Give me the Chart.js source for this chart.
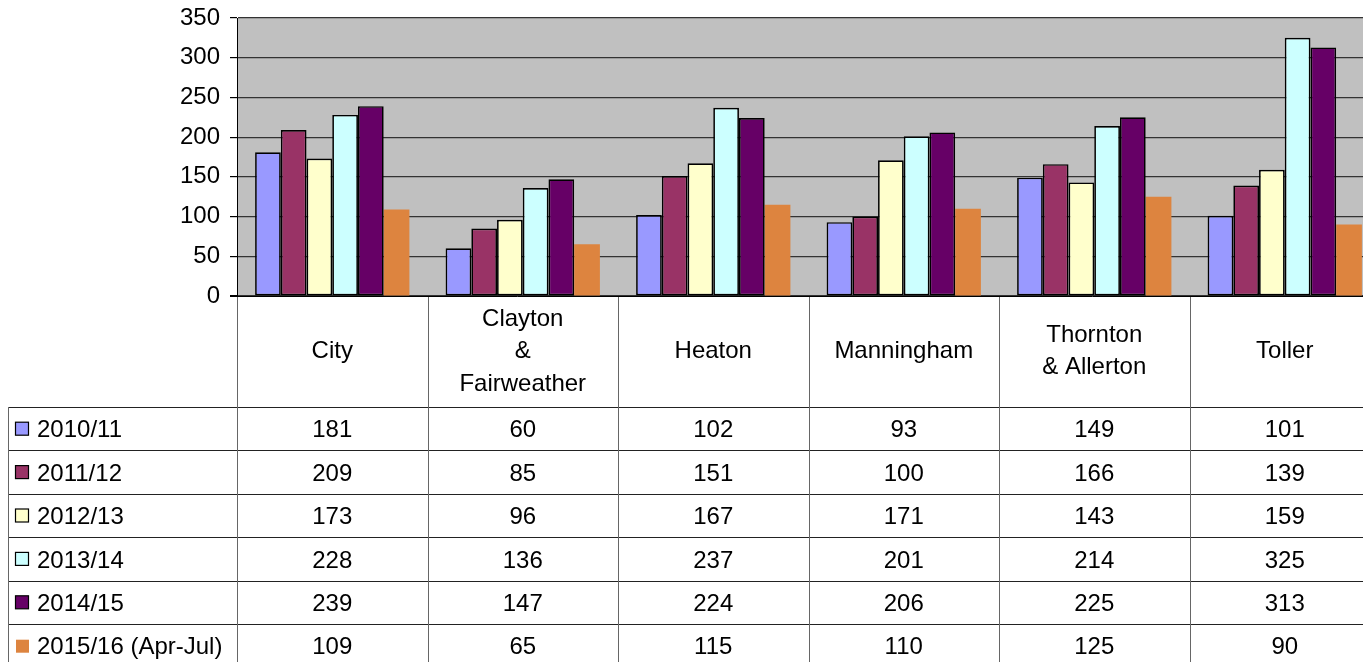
<!DOCTYPE html>
<html>
<head>
<meta charset="utf-8">
<script src="https://cdn.jsdelivr.net/npm/chart.js@4.4.1/dist/chart.umd.min.js"></script>
<style>
html,body{margin:0;padding:0;overflow:hidden;background:#fff;}
canvas{display:block;}
</style>
</head>
<body>
<canvas id="c" width="1380" height="662"></canvas>
<script>
// ---- data ----
const categories = [["City"], ["Clayton", "&", "Fairweather"], ["Heaton"], ["Manningham"], ["Thornton", "& Allerton"], ["Toller"]];
const seriesNames = ["2010/11", "2011/12", "2012/13", "2013/14", "2014/15", "2015/16 (Apr-Jul)"];
const s2010 = [181, 60, 102, 93, 149, 101];
const s2011 = [209, 85, 151, 100, 166, 139];
const s2012 = [173, 96, 167, 171, 143, 159];
const s2013 = [228, 136, 237, 201, 214, 325];
const s2014 = [239, 147, 224, 206, 225, 313];
const s2015 = [109, 65, 115, 110, 125, 90];
const yTicks = [0, 50, 100, 150, 200, 250, 300, 350];

const seriesValues = [s2010, s2011, s2012, s2013, s2014, s2015];
const colors = ["#9999ff", "#993366", "#ffffcc", "#ccffff", "#660066", "#dd843f"];
const borders = [1.7, 1.7, 1.7, 1.7, 1.7, 0];

const FONT = "'Liberation Sans', Arial, sans-serif";
const HEADER_BOTTOM = 407;
const ROW_H = 43.4;
const LEGEND_LEFT = 8;

const tablePlugin = {
  id: 'tablePlugin',
  beforeDraw(chart) {
    const {ctx, chartArea: a} = chart;
    ctx.save();
    ctx.fillStyle = '#c0c0c0';
    ctx.fillRect(a.left, a.top, a.right - a.left, a.bottom - a.top);
    ctx.restore();
  },
  afterDraw(chart) {
    const {ctx, chartArea: a} = chart;
    const x = chart.scales.x;
    const n = categories.length;
    const cw = (a.right - a.left) / n;
    const H = chart.height;
    ctx.save();
    ctx.strokeStyle = '#222';
    ctx.lineWidth = 1;
    for (let r = 0; r < seriesNames.length; r++) {
      const y = Math.round(HEADER_BOTTOM + r * ROW_H) + 0.5;
      ctx.beginPath(); ctx.moveTo(LEGEND_LEFT, y); ctx.lineTo(chart.width, y); ctx.stroke();
    }
    ctx.strokeStyle = '#666';
    for (let i = 0; i <= n; i++) {
      const vx = Math.round(a.left + i * cw) + 0.5;
      ctx.beginPath(); ctx.moveTo(vx, a.bottom); ctx.lineTo(vx, H); ctx.stroke();
    }
    ctx.beginPath(); ctx.moveTo(LEGEND_LEFT + 0.5, HEADER_BOTTOM); ctx.lineTo(LEGEND_LEFT + 0.5, H); ctx.stroke();
    ctx.strokeStyle = '#000';
    ctx.beginPath(); ctx.moveTo(a.left - 7, a.bottom + 0.5); ctx.lineTo(a.right, a.bottom + 0.5); ctx.stroke();

    ctx.fillStyle = '#000';
    ctx.font = '24px ' + FONT;
    ctx.textAlign = 'center';
    ctx.textBaseline = 'middle';
    const hc = (a.bottom + HEADER_BOTTOM) / 2;
    const lh = 32.5;
    categories.forEach((lines, i) => {
      const cx = x.getPixelForValue(i);
      const y0 = hc - (lines.length - 1) * lh / 2;
      lines.forEach((t, k) => ctx.fillText(t, cx, y0 + k * lh));
    });
    seriesNames.forEach((name, r) => {
      const cy = HEADER_BOTTOM + r * ROW_H + ROW_H / 2;
      if (borders[r] > 0) {
        ctx.fillStyle = colors[r];
        ctx.fillRect(15.5, cy - 6.5, 13, 13);
        ctx.strokeStyle = '#000';
        ctx.lineWidth = 1.2;
        ctx.strokeRect(15.5, cy - 6.5, 13, 13);
      } else {
        ctx.fillStyle = colors[r];
        ctx.fillRect(16, cy - 6, 13, 13);
      }
      ctx.fillStyle = '#000';
      ctx.textAlign = 'left';
      ctx.fillText(name, 37, cy + 2);
      ctx.textAlign = 'center';
      seriesValues[r].forEach((v, i) => {
        ctx.fillText(String(v), x.getPixelForValue(i), cy + 2);
      });
    });
    ctx.restore();
  }
};

new Chart(document.getElementById('c'), {
  type: 'bar',
  data: {
    labels: categories.map(l => l.join(' ')),
    datasets: seriesNames.map((name, i) => ({
      label: name,
      data: seriesValues[i],
      backgroundColor: colors[i],
      borderColor: '#000',
      borderWidth: borders[i],
      borderSkipped: false,
      categoryPercentage: 0.81,
      barPercentage: 1.0
    }))
  },
  options: {
    responsive: false,
    animation: false,
    events: [],
    layout: { padding: { top: 18, bottom: 366, left: 0, right: 0 } },
    plugins: { legend: { display: false }, tooltip: { enabled: false } },
    scales: {
      x: { display: false, offset: true, grid: { offset: true } },
      y: {
        min: 0, max: 350,
        afterFit(scale) { scale.width = 237; scale.paddingTop = 0; scale.paddingBottom = 0; },
        afterBuildTicks(scale) { scale.ticks = yTicks.map(v => ({ value: v })); },
        ticks: { color: '#000', font: { family: FONT, size: 24 }, padding: 10 },
        grid: { color: '#333', lineWidth: 1.2, tickLength: 7, tickColor: '#000' },
        border: { color: '#000', width: 1 }
      }
    }
  },
  plugins: [tablePlugin]
});
</script>
</body>
</html>
